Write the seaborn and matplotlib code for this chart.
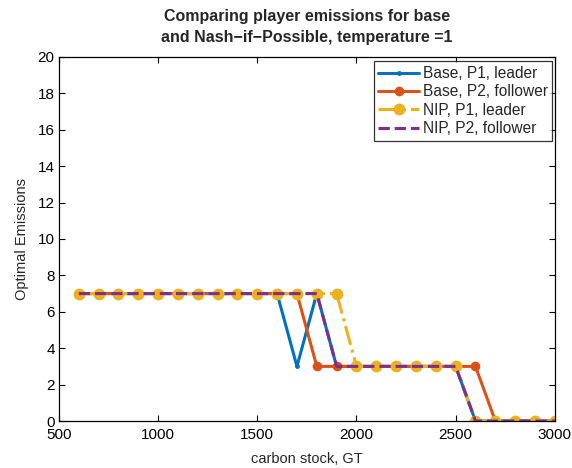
import matplotlib
matplotlib.use("Agg")
import matplotlib.pyplot as plt
import seaborn as sns
import numpy as np

carbon_stock = [600, 700, 800, 900, 1000, 1100, 1200, 1300, 1400, 1500, 1600, 1700, 1800,
                1900, 2000, 2100, 2200, 2300, 2400, 2500, 2600, 2700, 2800, 2900, 3000]
base_p1 = [7, 7, 7, 7, 7, 7, 7, 7, 7, 7, 7, 3, 7, 3, 3, 3, 3, 3, 3, 3, 0, 0, 0, 0, 0]
base_p2 = [7, 7, 7, 7, 7, 7, 7, 7, 7, 7, 7, 7, 3, 3, 3, 3, 3, 3, 3, 3, 3, 0, 0, 0, 0]
nip_p1 = [7, 7, 7, 7, 7, 7, 7, 7, 7, 7, 7, 7, 7, 7, 3, 3, 3, 3, 3, 3, 0, 0, 0, 0, 0]
nip_p2 = [7, 7, 7, 7, 7, 7, 7, 7, 7, 7, 7, 7, 7, 3, 3, 3, 3, 3, 3, 3, 0, 0, 0, 0, 0]

labels = ["Base, P1, leader", "Base, P2, follower", "NIP, P1, leader", "NIP, P2, follower"]
x_ticks = [500, 1000, 1500, 2000, 2500, 3000]
y_ticks = [0, 2, 4, 6, 8, 10, 12, 14, 16, 18, 20]

sns.set_style("white")
plt.rcParams["font.family"] = ["Liberation Sans", "DejaVu Sans"]

fig = plt.figure(figsize=(5.72, 4.68), dpi=100)
ax = fig.add_axes([0.103, 0.1004, 0.867, 0.778])

styles = [
    dict(color="#0072BD", linestyle="-", marker=".", markersize=7, linewidth=2.2),
    dict(color="#D95319", linestyle="-", marker="o", markersize=7, linewidth=2.2),
    dict(color="#EDB120", linestyle="-.", marker="o", markersize=8.5, linewidth=2.2),
    dict(color="#7E2F8E", linestyle="--", marker=None, linewidth=2.2),
]

for series, label, st in zip([base_p1, base_p2, nip_p1, nip_p2], labels, styles):
    sns.lineplot(x=carbon_stock, y=series, ax=ax, label=label, sort=False,
                 markeredgewidth=0, **st)

ax.set_xlim(500, 3000)
ax.set_ylim(0, 20)
ax.set_xticks(x_ticks)
ax.set_yticks(y_ticks)
ax.tick_params(direction="in", length=4, width=0.8, labelsize=11, colors="black",
               top=True, right=True, bottom=True, left=True)
ax.tick_params(axis="x", pad=5)
ax.tick_params(axis="y", pad=3)
for s in ax.spines.values():
    s.set_visible(True)
    s.set_color("black")
    s.set_linewidth(0.9)

ax.set_xlabel("carbon stock, GT", fontsize=10.5, labelpad=7)
ax.set_ylabel("Optimal Emissions", fontsize=10.5, labelpad=6)
ax.set_title("Comparing player emissions for base\nand Nash\u2212if\u2212Possible, temperature =1",
             fontsize=11.5, fontweight="bold", pad=11, linespacing=1.45)

leg = ax.legend(loc="upper right", bbox_to_anchor=(0.995, 0.988), fontsize=11.2,
                frameon=True, fancybox=False, edgecolor="black", borderpad=0.3,
                labelspacing=0.22, handlelength=2.6, handletextpad=0.25,
                borderaxespad=0.0)
leg.get_frame().set_linewidth(0.9)

fig.savefig("out.png", dpi=100)
